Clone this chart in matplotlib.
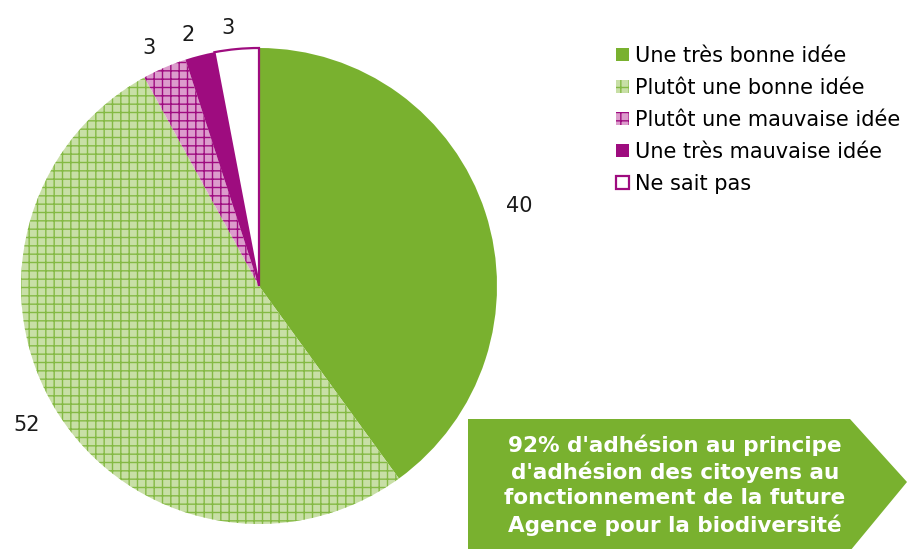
import matplotlib
matplotlib.use("Agg")
import matplotlib.pyplot as plt
from matplotlib.patches import Polygon

plt.rcParams["font.family"] = ["DejaVu Sans"]

# ---------------------------------------------------------------------------
# Data
# ---------------------------------------------------------------------------
categories = [
    "Une très bonne idée",
    "Plutôt une bonne idée",
    "Plutôt une mauvaise idée",
    "Une très mauvaise idée",
    "Ne sait pas",
]
values = [40, 52, 3, 2, 3]
value_labels = [str(v) for v in values]

callout_text = ("92% d'adhésion au principe\n"
                "d'adhésion des citoyens au\n"
                "fonctionnement de la future\n"
                "Agence pour la biodiversité")

GREEN      = "#79b12f"
LIGHTGREEN = "#c8dfa6"
GRIDGREEN  = "#84b944"
PINK       = "#dc9ccc"
MAGENTA    = "#9e0c7f"

face_colors = [GREEN, LIGHTGREEN, PINK, MAGENTA, "white"]
edge_colors = [GREEN, GRIDGREEN, MAGENTA, MAGENTA, MAGENTA]
hatches     = [None, "++", "++", None, None]
edge_widths = [0, 0, 0, 0, 1.6]

W, H = 907, 549
fig = plt.figure(figsize=(W / 100, H / 100), dpi=100)

# pie axes: centre (259, 286) px, radius 238 px
cx, cy, r = 259, 286, 238
ax = fig.add_axes([(cx - r) / W, (H - cy - r) / H, 2 * r / W, 2 * r / H])

wedges, texts = ax.pie(
    values, labels=value_labels, startangle=90, counterclock=False,
    colors=face_colors, labeldistance=1.09,
    textprops=dict(fontsize=15, color="#1a1a1a"),
)
for w, ec, h, lw in zip(wedges, edge_colors, hatches, edge_widths):
    w.set_edgecolor(ec)
    w.set_linewidth(lw)
    if h:
        w.set_hatch(h)
ax.set_xlim(-1, 1)
ax.set_ylim(-1, 1)
ax.set_aspect("equal")
ax.axis("off")

leg = fig.legend(
    wedges, categories, loc="upper left",
    bbox_to_anchor=(616 / W, 1 - 46 / H),
    frameon=False, fontsize=15,
    handlelength=0.6, handleheight=0.6, handletextpad=0.3,
    labelspacing=0.57, borderaxespad=0, borderpad=0,
)

# arrow-shaped callout box
pts = [(468, 419), (850, 419), (907, 482), (850, 551), (468, 551)]
poly = Polygon([(x / W, 1 - y / H) for x, y in pts], closed=True,
               transform=fig.transFigure, facecolor=GREEN, edgecolor="none")
fig.patches.append(poly)
fig.text(675 / W, 1 - 485 / H, callout_text, ha="center", va="center",
         color="white", fontsize=15.5, fontweight="bold", linespacing=1.34)

fig.savefig("out.png", dpi=100)
